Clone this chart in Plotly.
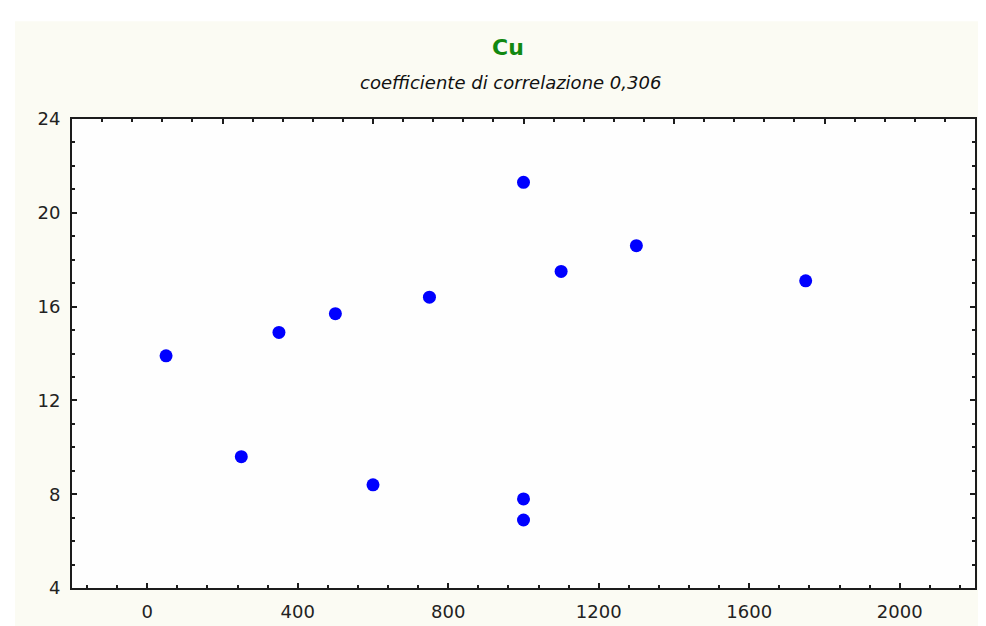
import plotly.graph_objects as go

# Data
x_values = [50, 250, 350, 500, 600, 750, 1000, 1000, 1000, 1100, 1300, 1750]
y_values = [13.9, 9.6, 14.9, 15.7, 8.4, 16.4, 21.3, 7.8, 6.9, 17.5, 18.6, 17.1]

title_text = "Cu"
subtitle_text = "coefficiente di correlazione 0,306"

W, H = 986, 626
ML, MR, MT, MB = 64, 19, 111, 40
PW, PH = W - ML - MR, H - MT - MB

cream = "#FBFBF3"
axis_col = "#1c1c1c"
font_fam = "DejaVu Sans"

fig = go.Figure()
fig.add_trace(go.Scatter(
    x=x_values, y=y_values, mode="markers",
    marker=dict(color="#0000FF", size=13, line=dict(width=0)),
    showlegend=False, hoverinfo="x+y"))
# dummy trace so the top axis is drawn
fig.add_trace(go.Scatter(x=[None], y=[None], xaxis="x2", mode="markers",
                         showlegend=False, hoverinfo="skip"))

def px_x(p):
    return (p - ML) / PW

def px_y(p):
    return 1 + (MT - p) / PH

fig.update_layout(
    width=W, height=H, autosize=False,
    margin=dict(l=ML, r=MR, t=MT, b=MB, pad=0),
    paper_bgcolor=cream,
    plot_bgcolor="#FEFEFE",
    font=dict(family=font_fam, size=18, color="#222222"),
    xaxis=dict(
        range=[-200, 2200], tick0=0, dtick=400,
        ticks="inside", ticklen=5, tickwidth=1.5, tickcolor=axis_col,
        minor=dict(ticks="inside", tick0=0, dtick=80, ticklen=3, tickwidth=1.5, tickcolor=axis_col),
        showline=True, linewidth=2, linecolor=axis_col, mirror=False,
        showgrid=False, zeroline=False,
        tickfont=dict(family=font_fam, size=18, color="#222222"),
        ticklabelstandoff=6,
    ),
    xaxis2=dict(
        range=[-200, 2200], overlaying="x", side="top", anchor="y",
        tick0=200, dtick=400,
        ticks="inside", ticklen=5, tickwidth=1.5, tickcolor=axis_col,
        minor=dict(ticks="inside", tick0=40, dtick=80, ticklen=3, tickwidth=1.5, tickcolor=axis_col),
        showline=True, linewidth=2, linecolor=axis_col,
        showgrid=False, zeroline=False, showticklabels=False,
    ),
    yaxis=dict(
        range=[4, 24], tick0=4, dtick=4,
        ticks="inside", ticklen=5, tickwidth=1.5, tickcolor=axis_col,
        minor=dict(ticks="inside", dtick=1, ticklen=3, tickwidth=1.5, tickcolor=axis_col),
        showline=True, linewidth=2, linecolor=axis_col, mirror="ticks",
        showgrid=False, zeroline=False,
        tickfont=dict(family=font_fam, size=18, color="#222222"),
        ticklabelstandoff=6,
    ),
    shapes=[
        # white strip along the top edge of the image
        dict(type="rect", xref="paper", yref="paper", layer="above",
             x0=px_x(-5), x1=px_x(W + 5), y0=px_y(12), y1=px_y(-5),
             fillcolor="white", line=dict(width=0)),
        # white strip along the left edge of the image
        dict(type="rect", xref="paper", yref="paper", layer="above",
             x0=px_x(-5), x1=px_x(7), y0=px_y(H + 5), y1=px_y(-5),
             fillcolor="white", line=dict(width=0)),
    ],
    annotations=[
        dict(text="<b>" + title_text + "</b>", xref="paper", yref="paper",
             x=px_x(500), y=px_y(39), xanchor="center", yanchor="middle",
             showarrow=False, font=dict(family=font_fam, size=22, color="#118811")),
        dict(text="<i>" + subtitle_text + "</i>", xref="paper", yref="paper",
             x=px_x(502), y=px_y(74), xanchor="center", yanchor="middle",
             showarrow=False, font=dict(family=font_fam, size=18, color="#111111")),
    ],
)

fig.write_html("out.html")
